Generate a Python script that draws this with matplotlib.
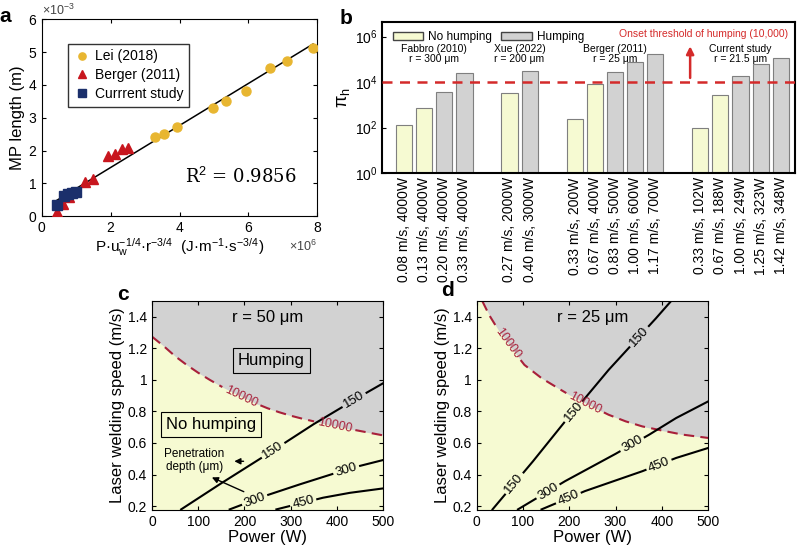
import numpy as np
import matplotlib.pyplot as plt
from matplotlib.patches import Patch
from matplotlib.transforms import blended_transform_factory

plt.rcParams['font.family'] = ['Liberation Sans', 'DejaVu Sans']
plt.rcParams['mathtext.fontset'] = 'custom'
plt.rcParams['mathtext.rm'] = 'Liberation Sans'
plt.rcParams['mathtext.it'] = 'Liberation Sans:italic'

# ---------------- data: panel a ----------------
lei_x = np.array([3.28, 3.54, 3.93, 4.97, 5.34, 5.92, 6.62, 7.12, 7.88]) * 1e6
lei_y = np.array([2.41, 2.51, 2.72, 3.31, 3.51, 3.81, 4.52, 4.72, 5.11]) * 1e-3
berger_x = np.array([0.44, 0.61, 0.78, 1.26, 1.49, 1.93, 2.12, 2.32, 2.51]) * 1e6
berger_y = np.array([0.12, 0.38, 0.58, 1.04, 1.13, 1.84, 1.90, 2.05, 2.09]) * 1e-3
cur_x = np.array([0.44, 0.65, 0.76, 0.86, 0.99]) * 1e6
cur_y = np.array([0.35, 0.60, 0.66, 0.71, 0.74]) * 1e-3

# ---------------- data: panel b ----------------
group_names = ['Fabbro (2010)\nr = 300 μm', 'Xue (2022)\nr = 200 μm',
               'Berger (2011)\nr = 25 μm', 'Current study\nr = 21.5 μm']
conditions = [
    ['0.08 m/s, 4000W', '0.13 m/s, 4000W', '0.20 m/s, 4000W', '0.33 m/s, 4000W'],
    ['0.27 m/s, 2000W', '0.40 m/s, 3000W'],
    ['0.33 m/s, 200W', '0.67 m/s, 400W', '0.83 m/s, 500W', '1.00 m/s, 600W', '1.17 m/s, 700W'],
    ['0.33 m/s, 102W', '0.67 m/s, 188W', '1.00 m/s, 249W', '1.25 m/s, 323W', '1.42 m/s, 348W'],
]
pi_h = [
    [135, 760, 3500, 2.5e4],
    [3150, 3.0e4],
    [230, 8100, 2.7e4, 7.6e4, 1.7e5],
    [96, 2650, 1.8e4, 6.2e4, 1.1e5],
]
humping = [[0, 0, 1, 1], [0, 1], [0, 0, 1, 1, 1], [0, 0, 1, 1, 1]]
threshold = 1e4

c_bound_P = [0, 25, 50, 75, 100, 125, 150, 175, 200, 225, 250, 275, 300, 325, 350, 375, 400, 425, 450, 475, 500]
c_bound_u = [1.274, 1.215, 1.15, 1.095, 1.045, 1.0, 0.958, 0.92, 0.885, 0.85, 0.82, 0.795, 0.773, 0.754, 0.737,
             0.721, 0.705, 0.69, 0.676, 0.662, 0.648]
c150_P = [63, 150, 250, 350, 450, 500]
c150_u = [0.179, 0.345, 0.53, 0.72, 0.895, 0.979]
c300_P = [168, 250, 320, 390, 450, 500]
c300_u = [0.179, 0.27, 0.338, 0.403, 0.455, 0.492]
c450_P = [269, 370, 428, 500]
c450_u = [0.179, 0.253, 0.284, 0.312]

d_bound_P = [12, 27, 50, 75, 103, 140, 176, 200, 250, 285, 322, 358, 402, 445, 500]
d_bound_u = [1.499, 1.41, 1.30, 1.20, 1.095, 1.011, 0.947, 0.905, 0.83, 0.779, 0.737, 0.705, 0.678, 0.653, 0.632]
d150_P = [34, 121.5, 191, 234, 285, 387, 420]
d150_u = [0.179, 0.484, 0.737, 0.884, 1.063, 1.389, 1.499]
d300_P = [89, 191, 300, 373, 431, 500]
d300_u = [0.179, 0.358, 0.531, 0.653, 0.758, 0.863]
d450_P = [140, 234, 358, 431, 500]
d450_u = [0.179, 0.295, 0.421, 0.505, 0.568]

speed_ticks = [0.2, 0.4, 0.6, 0.8, 1.0, 1.2, 1.4]
speed_labels = ['0.2', '0.4', '0.6', '0.8', '1', '1.2', '1.4']

# colours
yellow = '#F6FAD2'
grey = '#D2D2D2'
red = '#D42A2A'
crimson = '#A8203A'


def line_with_labels(ax, xs, ys, label_x, text, color, fs=9, ls='-', lw=1.5):
    # draw a polyline with gaps where inline labels sit (like contour labels)
    d = ax.transData.transform(np.column_stack([xs, ys]))
    s = np.r_[0, np.cumsum(np.hypot(np.diff(d[:, 0]), np.diff(d[:, 1])))]
    hw = 0.5 * len(text) * 0.58 * fs * 100 / 72 + 3
    cuts = sorted(np.interp(lx, xs, s) for lx in label_x)
    inv = ax.transData.inverted()
    start = 0.0
    for c in cuts + [None]:
        end = s[-1] if c is None else c - hw
        if end > start:
            ss = np.r_[start, s[(s > start) & (s < end)], end]
            seg = inv.transform(np.column_stack([np.interp(ss, s, d[:, 0]), np.interp(ss, s, d[:, 1])]))
            ax.plot(seg[:, 0], seg[:, 1], color=color, ls=ls, lw=lw, dashes=(5, 3) if ls == '--' else (None, None))
        if c is not None:
            start = c + hw
    for c in cuts:
        x0, y0 = np.interp(c - hw, s, d[:, 0]), np.interp(c - hw, s, d[:, 1])
        x1, y1 = np.interp(c + hw, s, d[:, 0]), np.interp(c + hw, s, d[:, 1])
        ang = np.degrees(np.arctan2(y1 - y0, x1 - x0))
        px, py = inv.transform((np.interp(c, s, d[:, 0]), np.interp(c, s, d[:, 1])))
        ax.text(px, py, text, rotation=ang, rotation_mode='anchor', ha='center', va='center',
                color=color, fontsize=fs)


fig = plt.figure(figsize=(8, 5.5), dpi=100)

# =====================================================================
# Panel a
# =====================================================================
ax = fig.add_axes([0.0525, 0.607, 0.344, 0.358])
all_x = np.r_[lei_x, berger_x, cur_x]
all_y = np.r_[lei_y, berger_y, cur_y]
k, b0 = np.polyfit(all_x, all_y, 1)
fx = np.array([all_x.min(), all_x.max()])
ax.plot(fx, k * fx + b0, color='black', lw=1.1, zorder=2)
ax.plot(lei_x, lei_y, 'o', color='#E8B631', ms=6.5, label='Lei (2018)', zorder=3)
ax.plot(berger_x, berger_y, '^', color='#C8161E', ms=7.5, label='Berger (2011)', zorder=3)
ax.plot(cur_x, cur_y, 's', color='#1B2F6B', ms=6.5, label='Currrent study', zorder=4)
ax.set_xlim(0, 8e6)
ax.set_ylim(0, 6e-3)
ax.ticklabel_format(style='sci', scilimits=(0, 0), useMathText=True)
ax.xaxis.get_offset_text().set_fontsize(9)
ax.yaxis.get_offset_text().set_fontsize(9)
ax.xaxis.get_offset_text().set_color('#444444')
ax.yaxis.get_offset_text().set_color('#444444')
ax.tick_params(direction='in', top=True, right=True, labelsize=10, length=3)
ax.set_ylabel('MP length (m)', fontsize=12, labelpad=2)
ax.set_xlabel('P·u$_\\mathrm{w}^{-1/4}$·r$^{-3/4}$  (J·m$^{-1}$·s$^{-3/4}$)', fontsize=11, labelpad=1)
ax.legend(loc='upper left', bbox_to_anchor=(0.07, 0.91), fontsize=10, frameon=True, fancybox=False,
          edgecolor='black', handletextpad=0.3, borderpad=0.4, labelspacing=0.35, handlelength=1.2,
          markerscale=0.8)
ax.text(0.52, 0.17, 'R$^2$ = 0.9856', transform=ax.transAxes, fontsize=13, family='DejaVu Serif')

# =====================================================================
# Panel b
# =====================================================================
ax = fig.add_axes([0.4775, 0.6855, 0.516, 0.2745])
pos, cols, labs, vals, centers = [], [], [], [], []
x = 0.0
for g in range(len(pi_h)):
    gx = []
    for i, v in enumerate(pi_h[g]):
        pos.append(x)
        gx.append(x)
        vals.append(v)
        labs.append(conditions[g][i])
        cols.append(grey if humping[g][i] else yellow)
        x += 1
    centers.append(np.mean(gx))
    x += 1.23
ax.bar(pos, vals, width=0.8, color=cols, edgecolor='#7F7F7F', linewidth=0.8, zorder=2)
ax.set_yscale('log')
ax.set_ylim(1, 4.4e6)
ax.set_xlim(pos[0] - 1.09, pos[-1] + 0.69)
ax.axhline(threshold, color=red, ls=(0, (4, 3)), lw=1.8, zorder=3)
ax.set_xticks(pos)
ax.set_xticklabels(labs, rotation=90, fontsize=9)
ax.set_yticks([1, 1e2, 1e4, 1e6])
ax.tick_params(direction='in', labelsize=10, length=3)
ax.tick_params(axis='x', length=3, pad=3)
ax.set_ylabel('π$_\\mathrm{h}$', fontsize=13, labelpad=2)
for sp in ax.spines.values():
    sp.set_linewidth(1.5)
trans = blended_transform_factory(ax.transData, ax.transAxes)
for cx, name in zip(centers, group_names):
    ax.text(cx, 0.79, name, transform=trans, ha='center', va='center', fontsize=7.5, linespacing=1.0)
last_berger = pos[10]
xa = last_berger + 1.73
ax.annotate('', xy=(xa, 5e5), xytext=(xa, 1.15e4),
            arrowprops=dict(arrowstyle='-|>', color=red, lw=1.8, mutation_scale=11))
ax.text(last_berger + 2.42, 0.918, 'Onset threshold of humping (10,000)', transform=trans,
        ha='center', va='center', fontsize=7.5, color=red)
ax.legend(handles=[Patch(facecolor=yellow, edgecolor='#444444', label='No humping'),
                   Patch(facecolor=grey, edgecolor='#444444', label='Humping')],
          loc='upper left', bbox_to_anchor=(0.0, 1.01), ncol=2, frameon=False, fontsize=8.5,
          handlelength=2.6, handleheight=0.6, columnspacing=0.8, handletextpad=0.4)

# =====================================================================
# Panels c and d
# =====================================================================
panels = [
    (0.19, c_bound_P, c_bound_u, [193, 395],
     [(c150_P, c150_u, '150', [262, 437]), (c300_P, c300_u, '300', [222, 420]), (c450_P, c450_u, '450', [327])],
     'r = 50 μm'),
    (0.596, d_bound_P, d_bound_u, [67, 234],
     [(d150_P, d150_u, '150', [81, 209, 351]), (d300_P, d300_u, '300', [154, 336]),
      (d450_P, d450_u, '450', [198, 394])],
     'r = 25 μm'),
]
axes_cd = []
for left, bP, bu, blab, lines, rtext in panels:
    ax = fig.add_axes([left, 0.0727, 0.289, 0.38])
    axes_cd.append(ax)
    ax.set_xlim(0, 500)
    ax.set_ylim(0.175, 1.5)
    ax.set_facecolor(yellow)
    ax.fill_between(bP, bu, 1.5, color=grey, lw=0, zorder=1)
    line_with_labels(ax, bP, bu, blab, '10000', crimson, fs=9, ls='--', lw=1.5)
    for lP, lu, txt, lx in lines:
        line_with_labels(ax, lP, lu, lx, txt, 'black', fs=9.5, lw=1.5)
    ax.set_xticks([0, 100, 200, 300, 400, 500])
    ax.set_yticks(speed_ticks)
    ax.set_yticklabels(speed_labels)
    ax.tick_params(direction='in', top=True, right=True, labelsize=10, length=3)
    ax.set_xlabel('Power (W)', fontsize=12, labelpad=1)
    ax.set_ylabel('Laser welding speed (m/s)', fontsize=12, labelpad=2)
    ax.text(0.5, 0.92, rtext, transform=ax.transAxes, ha='center', va='center', fontsize=12)

ax = axes_cd[0]
ax.text(258, 1.126, 'Humping', ha='center', va='center', fontsize=12,
        bbox=dict(boxstyle='square,pad=0.3', facecolor='none', edgecolor='black', lw=0.8))
ax.text(128, 0.716, 'No humping', ha='center', va='center', fontsize=12,
        bbox=dict(boxstyle='square,pad=0.3', facecolor='none', edgecolor='black', lw=0.8))
ax.text(92, 0.49, 'Penetration\ndepth (μm)', ha='center', va='center', fontsize=8.5, linespacing=1.1)
ax.annotate('', xy=(172, 0.484), xytext=(204, 0.484),
            arrowprops=dict(arrowstyle='-|>', color='black', lw=1.0, mutation_scale=9))
ax.annotate('', xy=(124, 0.389), xytext=(204, 0.284),
            arrowprops=dict(arrowstyle='-|>', color='black', lw=1.0, mutation_scale=9))

for lx, ly, t in [(5, 17, 'a'), (346, 19, 'b'), (123, 294, 'c'), (447, 291, 'd')]:
    fig.text(lx / 800, 1 - ly / 550, t, fontsize=15, fontweight='bold', ha='center', va='center')

fig.savefig('out.png', dpi=100)
